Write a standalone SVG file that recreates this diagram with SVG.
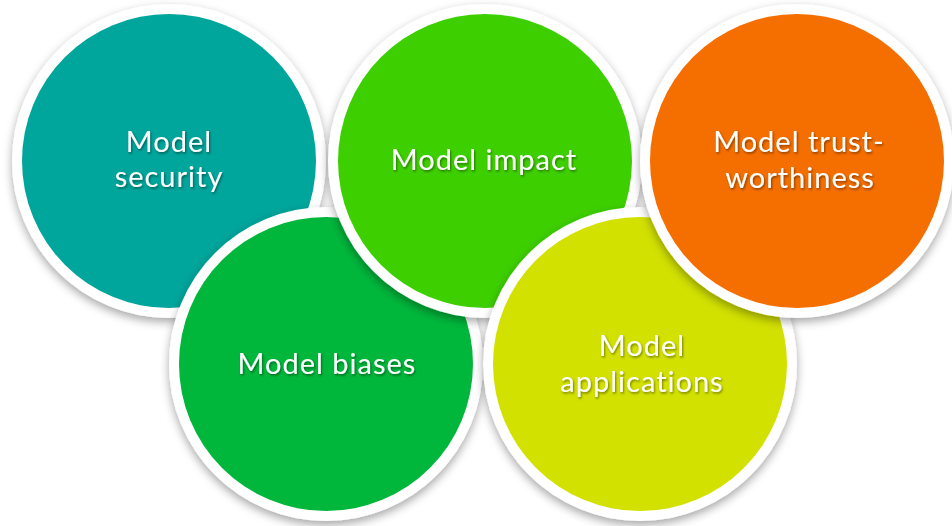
<svg xmlns="http://www.w3.org/2000/svg" width="952" height="526" viewBox="0 0 952 526">
  <defs>
    <filter id="shadow" x="-20%" y="-20%" width="140%" height="140%">
      <feDropShadow dx="0" dy="4" stdDeviation="5" flood-color="#000" flood-opacity="0.35"/>
    </filter>
    <filter id="tshadow" x="-10%" y="-30%" width="120%" height="160%">
      <feDropShadow dx="1" dy="1.5" stdDeviation="1.2" flood-color="#000" flood-opacity="0.45"/>
    </filter>
  </defs>
  <style>
    .ring { fill: #ffffff; }
    .lbl { font-family: Lato, "Open Sans", "Liberation Sans", sans-serif; font-size: 29px; letter-spacing: 1px; fill: #ffffff; text-anchor: middle; filter: url(#tshadow); }
  </style>
  <rect width="952" height="526" fill="#ffffff"/>
  <g id="node-security" filter="url(#shadow)">
    <circle class="ring" cx="169" cy="161" r="157"/>
    <circle cx="169" cy="161" r="147" fill="#00A59B"/>
    <text class="lbl" x="169" y="152">Model</text>
    <text class="lbl" x="169" y="187">security</text>
  </g>
  <g id="node-biases" filter="url(#shadow)">
    <circle class="ring" cx="326" cy="364" r="157"/>
    <circle cx="326" cy="364" r="147" fill="#00B73B"/>
    <text class="lbl" x="327" y="374">Model biases</text>
  </g>
  <g id="node-impact" filter="url(#shadow)">
    <circle class="ring" cx="485" cy="161" r="157"/>
    <circle cx="485" cy="161" r="147" fill="#3ECF05"/>
    <text class="lbl" x="484" y="170">Model impact</text>
  </g>
  <g id="node-applications" filter="url(#shadow)">
    <circle class="ring" cx="640" cy="364" r="157"/>
    <circle cx="640" cy="364" r="147" fill="#D2E100"/>
    <text class="lbl" x="642" y="356">Model</text>
    <text class="lbl" x="642" y="392">applications</text>
  </g>
  <g id="node-trustworthiness" filter="url(#shadow)">
    <circle class="ring" cx="797" cy="161" r="157"/>
    <circle cx="797" cy="161" r="147" fill="#F56E00"/>
    <text class="lbl" x="799" y="152">Model trust-</text>
    <text class="lbl" x="800" y="188">worthiness</text>
  </g>
  <g id="connectors"/>
</svg>
